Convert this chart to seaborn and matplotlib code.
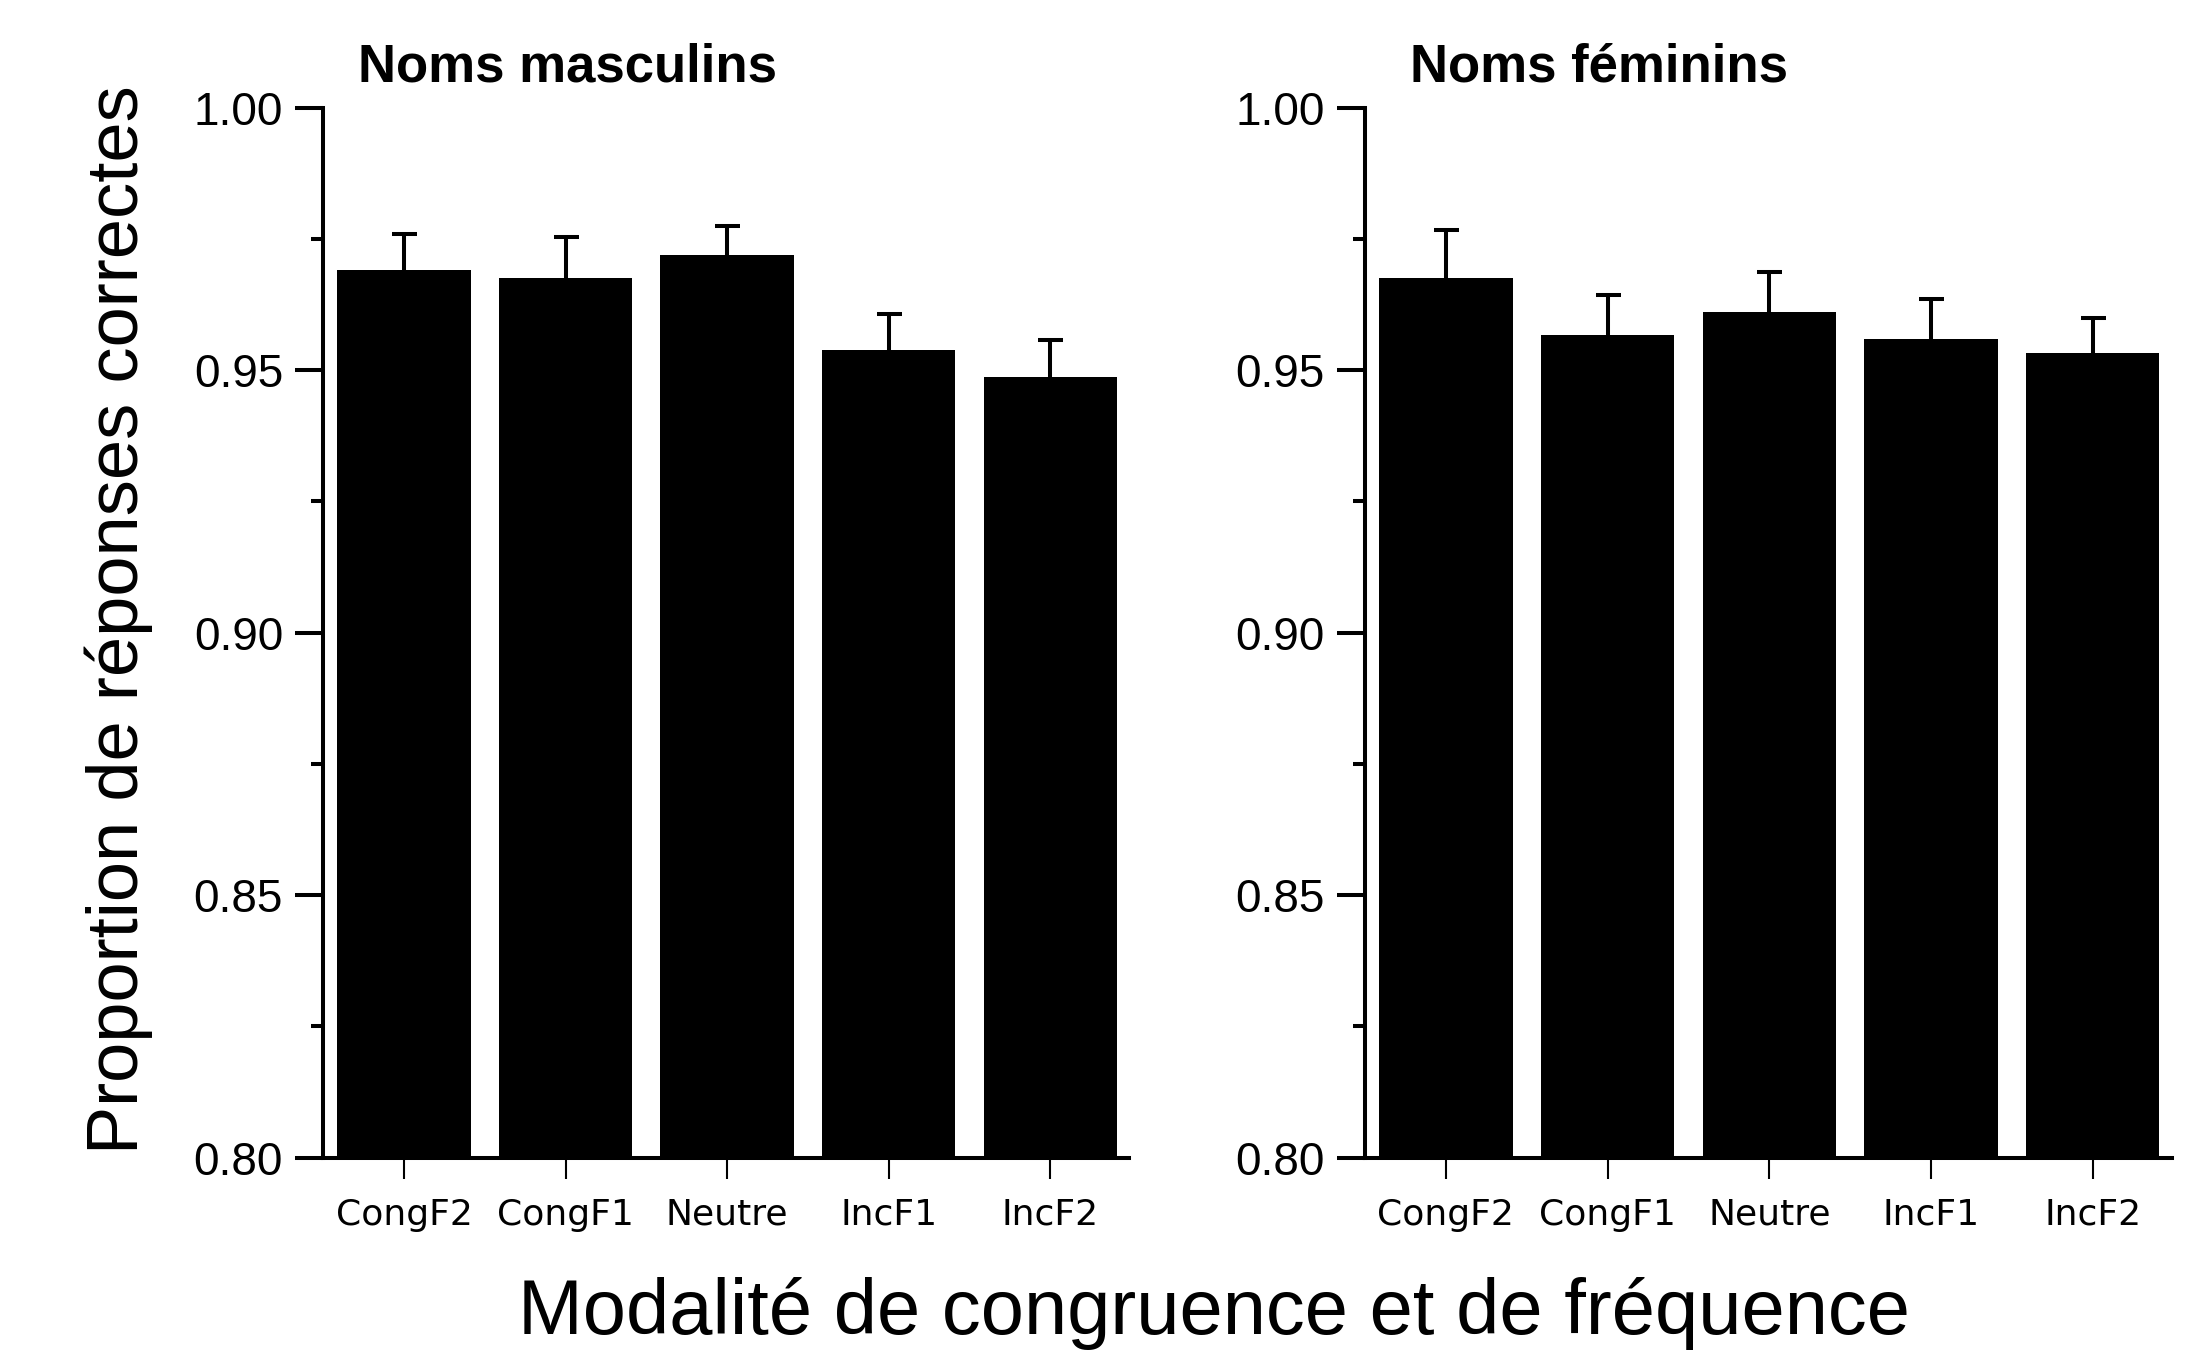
import numpy as np
import pandas as pd
import matplotlib
matplotlib.use("Agg")
import matplotlib.pyplot as plt
from matplotlib.ticker import MultipleLocator, FormatStrFormatter
import seaborn as sns

# ---- data ----
conditions = ["CongF2", "CongF1", "Neutre", "IncF1", "IncF2"]
masc_means = [0.9690, 0.9675, 0.9720, 0.9538, 0.9488]
masc_err = [0.0070, 0.0078, 0.0055, 0.0070, 0.0069]
fem_means = [0.9676, 0.9568, 0.9611, 0.9560, 0.9532]
fem_err = [0.0091, 0.0075, 0.0077, 0.0076, 0.0068]
panel_titles = ["Noms masculins", "Noms f\u00e9minins"]
y_label = "Proportion de r\u00e9ponses correctes"
x_label = "Modalit\u00e9 de congruence et de fr\u00e9quence"
y_ticks = [0.80, 0.85, 0.90, 0.95, 1.00]

sns.set_theme(style="ticks")
plt.rcParams["font.family"] = ["Liberation Sans", "DejaVu Sans"]

W, H = 2197, 1352
fig = plt.figure(figsize=(W / 100, H / 100), dpi=100)
fig.patch.set_facecolor("white")

ax_bottom = 1 - 1157.7 / H
ax_height = 1050 / H
axes_specs = [
    (323.3 / W, 806 / W, masc_means, masc_err, panel_titles[0], 0.043),
    (1365 / W, 807 / W, fem_means, fem_err, panel_titles[1], 0.056),
]

for left, width, means, errs, title, tx in axes_specs:
    ax = fig.add_axes([left, ax_bottom, width, ax_height])
    ax.set_facecolor("white")
    df = pd.DataFrame({"cond": conditions, "val": means})
    sns.barplot(data=df, x="cond", y="val", order=conditions, color="black",
                width=0.825, errorbar=None, linewidth=0, saturation=1, ax=ax)
    for p in ax.patches:
        p.set_facecolor("black")
        p.set_edgecolor("none")
    xs = np.arange(len(conditions))
    cont = ax.errorbar(xs, means, yerr=[np.zeros(len(errs)), errs], fmt="none",
                       ecolor="black", elinewidth=2.9, capsize=9, capthick=2.9,
                       zorder=3)
    # hide the lower caps (only upper error bars are shown)
    for cl in cont[1]:
        yd = np.asarray(cl.get_ydata(), dtype=float)
        if np.allclose(yd, np.asarray(means)):
            cl.set_visible(False)
    ax.set_ylim(0.80, 1.00)
    ax.set_xlim(-0.5, 4.49)
    ax.set_yticks(y_ticks)
    ax.yaxis.set_major_formatter(FormatStrFormatter("%.2f"))
    ax.yaxis.set_minor_locator(MultipleLocator(0.025))
    ax.set_xlabel("")
    ax.set_ylabel("")
    sns.despine(ax=ax)
    for s in ["left", "bottom"]:
        ax.spines[s].set_linewidth(2.9)
        ax.spines[s].set_color("black")
    ax.tick_params(axis="y", which="major", direction="out", length=20, width=2.9,
                   pad=9, labelsize=33, colors="black")
    ax.tick_params(axis="y", which="minor", direction="out", length=8.6, width=2.9,
                   colors="black")
    ax.tick_params(axis="x", which="major", direction="out", length=15, width=1.5,
                   pad=14, labelsize=26, colors="black")
    for lab in ax.get_xticklabels():
        lab.set_family(["DejaVu Sans"])
    ax.text(tx, 1.0245, title, transform=ax.transAxes, ha="left", va="baseline",
            fontsize=38, fontweight="bold", color="black")

fig.text(1214 / W, 1 - 1334 / H, x_label, ha="center", va="baseline",
         fontsize=56, color="black")
fig.text(138 / W, 1 - 620 / H, y_label, rotation=90, rotation_mode="anchor",
         ha="center", va="baseline", fontsize=52, color="black")

fig.savefig("out.png", dpi=100, facecolor="white")
